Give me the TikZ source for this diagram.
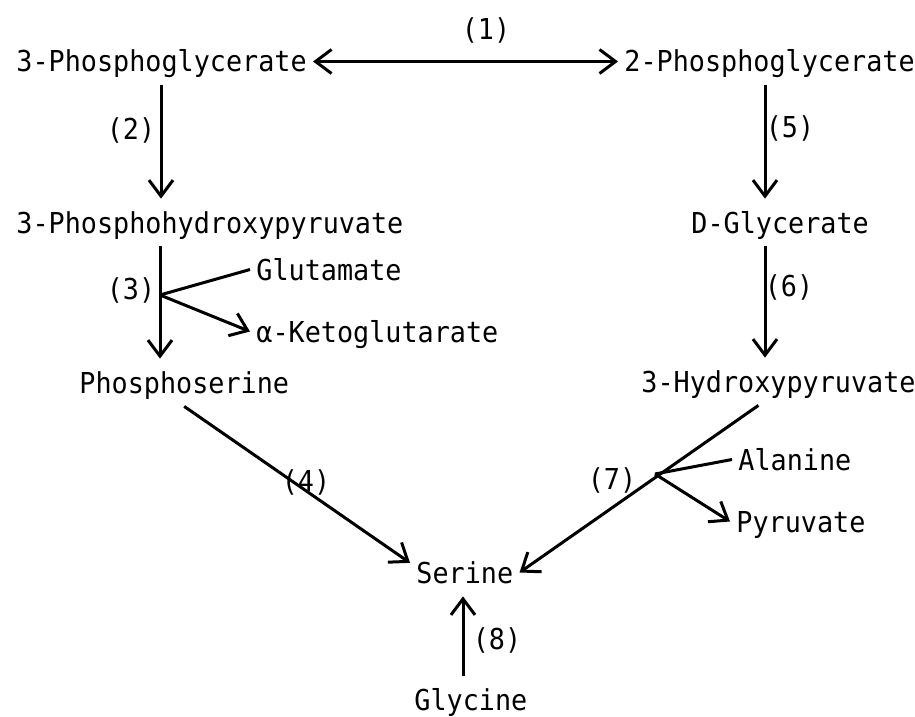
\documentclass[tikz,border=0pt]{standalone}
\usepackage{fontspec}
\usetikzlibrary{arrows.meta}
\newfontfamily\pathfont[FakeStretch=0.93]{DejaVu Sans Mono}
\newlength{\du}
\setlength{\du}{0.5pt}

\begin{document}
\begin{tikzpicture}[x=1\du,y=-1\du,
  metab/.style={anchor=base west,inner xsep=6\du,inner ysep=13\du,
    text height=21\du,text depth=0pt,font=\pathfont\fontsize{14.4}{17}\selectfont},
  enz/.style={inner sep=0pt,font=\pathfont\fontsize{14.4}{17}\selectfont},
  side/.style={line width=3\du},
  rxn/.style={side,-{Straight Barb[length=8pt,width=12pt]}},
  rxnboth/.style={side,{Straight Barb[length=8pt,width=12pt]}-{Straight Barb[length=8pt,width=12pt]}}]
\useasboundingbox (0,0) rectangle (915,717);
% metabolites
\node[metab] (pga3) at (10,72) {3-Phosphoglycerate};
\node[metab] (pga2) at (618,72) {2-Phosphoglycerate};
\node[metab] (php) at (10,233) {3-Phosphohydroxypyruvate};
\node[metab] (dgly) at (685,233) {D-Glycerate};
\node[metab] (glu) at (250,280) {Glutamate};
\node[metab] (akg) at (250,342) {α-Ketoglutarate};
\node[metab] (ps) at (73,393) {Phosphoserine};
\node[metab] (hp) at (635,392) {3-Hydroxypyruvate};
\node[metab] (ala) at (732,470) {Alanine};
\node[metab] (pyr) at (730,532) {Pyruvate};
\node[metab] (ser) at (410,583) {Serine};
\node[metab] (gly) at (408,710) {Glycine};
% enzyme numbers
\node[enz] (l1) at (486,30) {(1)};
\node[enz] (l2) at (131,130) {(2)};
\node[enz] (l3) at (131,290) {(3)};
\node[enz] (l4) at (306,482) {(4)};
\node[enz] (l5) at (790,128) {(5)};
\node[enz] (l6) at (789,287) {(6)};
\node[enz] (l7) at (612,480) {(7)};
\node[enz] (l8) at (497,640) {(8)};
% columns and branch points
\coordinate (lcol) at (161,0);
\coordinate (rcol) at (765,0);
\coordinate (mcol) at (463,0);
\coordinate (b3) at (160,295);
\coordinate (b7) at (655,474);
% reactions
\draw[rxnboth] (pga3.east) -- (pga2.west);
\draw[rxn] (lcol |- pga3.south) -- (lcol |- php.north);
\draw[rxn] (b3 |- php.south) -- (b3 |- ps.north);
\draw[side] (b3) -- (glu.west);
\draw[rxn] (b3) -- (akg.west);
\draw[rxn] (ps.south) -- (ser.170);
\draw[rxn] (rcol |- pga2.south) -- (rcol |- dgly.north);
\draw[rxn] (rcol |- dgly.south) -- (rcol |- hp.north);
\draw[rxn] (hp.230) -- (ser.east);
\draw[side] (b7) -- (ala.west);
\draw[rxn] (b7) -- (pyr.west);
\draw[rxn] (mcol |- gly.north) -- (mcol |- ser.south);
\end{tikzpicture}
\end{document}
